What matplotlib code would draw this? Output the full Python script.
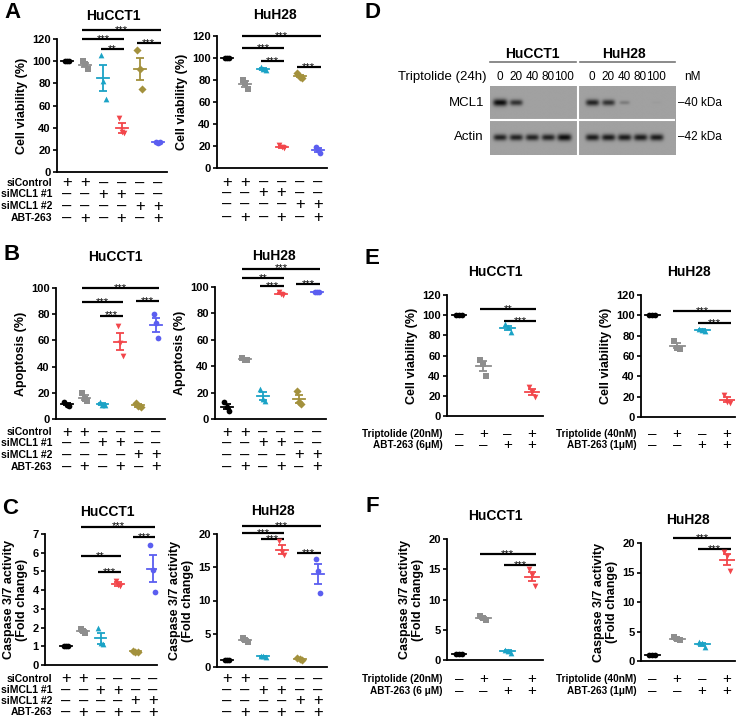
import numpy as np
import matplotlib
matplotlib.use('Agg')
import matplotlib.pyplot as plt
from matplotlib import transforms

plt.rcParams['font.family'] = ['Liberation Sans', 'DejaVu Sans']

# ---------------- data (3 replicates per group) ----------------
# A: cell viability (%)
via_hucct1 = [[100, 100, 100], [100, 97, 93], [106, 82, 66], [49, 36, 35], [110, 93, 75], [27, 26, 27]]
via_huh28 = [[100, 100, 100], [80, 77, 72], [92, 90, 89], [21, 19, 18], [86, 83, 82], [19, 16, 14]]
# B: apoptosis (%)
apo_hucct1 = [[13, 11, 10], [20, 15, 14], [13, 11, 11], [71, 58, 48], [12, 10, 9], [80, 73, 62]]
apo_huh28 = [[13, 9, 6], [46, 45, 45], [23, 15, 14], [96, 95, 94], [21, 13, 11], [96, 96, 96]]
# C: caspase 3/7 activity (fold change)
cas_hucct1 = [[1, 1, 1], [1.9, 1.8, 1.7], [2.0, 1.2, 1.1], [4.5, 4.25, 4.2], [0.75, 0.72, 0.7], [6.4, 5.1, 3.9]]
cas_huh28 = [[1, 1, 1], [4.4, 4.0, 3.8], [1.7, 1.6, 1.5], [18.9, 17.3, 16.8], [1.3, 1.2, 1.1], [16.3, 14.5, 11.2]]
# E: triptolide + ABT-263 viability (%)
tri_via_hucct1 = [[100, 100, 100], [56, 52, 40], [91, 88, 83], [29, 24, 19]]
tri_via_huh28 = [[100, 100, 100], [75, 68, 67], [87, 86, 85], [22, 15, 14]]
# F: triptolide + ABT-263 caspase activity
tri_cas_hucct1 = [[1, 1, 1], [7.3, 7.0, 6.6], [1.7, 1.5, 1.1], [15, 14, 12.3]]
tri_cas_huh28 = [[1, 1, 1], [4.0, 3.8, 3.5], [3.2, 3.0, 2.3], [18.5, 17.8, 15.3]]

# D: western blot band intensities (0 = none, 1 = strongest)
blot_doses = ['0', '20', '40', '80', '100', '0', '20', '40', '80', '100']
mcl1_band = [1.0, 0.75, 0.0, 0.0, 0.0, 0.85, 0.75, 0.25, 0.0, 0.03]
actin_band = [0.85, 0.85, 0.85, 0.85, 1.0, 0.9, 0.9, 0.9, 0.9, 0.9]

# treatment tables
rows_si = ['siControl', 'siMCL1 #1', 'siMCL1 #2', 'ABT-263']
signs_si = [['+', '+', '–', '–', '–', '–'],
            ['–', '–', '+', '+', '–', '–'],
            ['–', '–', '–', '–', '+', '+'],
            ['–', '+', '–', '+', '–', '+']]
signs_tri = [['–', '+', '–', '+'],
             ['–', '–', '+', '+']]

# significance: (group a, group b, level, label)
sig_A1 = [(1, 5, 128, '***'), (1, 3, 120, '***'), (2, 3, 111, '**'), (4, 5, 116, '***')]
sig_A2 = [(1, 5, 120, '***'), (1, 3, 109, '***'), (2, 3, 97, '***'), (4, 5, 92, '***')]
sig_B1 = [(1, 5, 100, '***'), (1, 3, 89, '***'), (2, 3, 79, '***'), (4, 5, 90, '***')]
sig_B2 = [(1, 5, 114, '***'), (1, 3, 107, '**'), (2, 3, 101, '***'), (4, 5, 102, '***')]
sig_C1 = [(1, 5, 7.4, '***'), (1, 3, 5.83, '**'), (2, 3, 4.97, '***'), (4, 5, 6.84, '***')]
sig_C2 = [(1, 5, 21.2, '***'), (1, 3, 20.15, '***'), (2, 3, 19.25, '***'), (4, 5, 17.1, '***')]
sig_E1 = [(1, 3, 106, '**'), (2, 3, 94, '***')]
sig_E2 = [(1, 3, 104, '***'), (2, 3, 92, '***')]
sig_F1 = [(1, 3, 17.5, '***'), (2, 3, 15.7, '***')]
sig_F2 = [(1, 3, 20.8, '***'), (2, 3, 19.0, '***')]

colors6 = ['black', '#8e8e8e', '#1ba3c6', '#f2464b', '#a3913d', '#5b5ef0']
markers6 = ['o', 's', '^', 'v', 'D', 'o']
colors4 = colors6[:4]
markers4 = markers6[:4]

W, H = 738, 719
fig = plt.figure(figsize=(W / 100, H / 100), dpi=100)


def add_ax(l, t, r, b):
    return fig.add_axes([l / W, 1 - b / H, (r - l) / W, (b - t) / H])


def fy(y):
    return 1 - y / H


def style(ax, ymax, step, ylabel, xlim):
    ax.set_ylim(0, ymax)
    ax.set_yticks(np.arange(0, ymax + step / 2, step))
    ax.set_xlim(*xlim)
    ax.set_xticks([])
    for s in ['top', 'right']:
        ax.spines[s].set_visible(False)
    for s in ['left', 'bottom']:
        ax.spines[s].set_linewidth(1.3)
    ax.tick_params(axis='y', length=3, width=1.2, labelsize=8, pad=1.5)
    for lab in ax.get_yticklabels():
        lab.set_fontweight('bold')
    ax.set_ylabel(ylabel, fontsize=9, fontweight='bold', labelpad=3, linespacing=1.1)
    ax.patch.set_alpha(0)


def dots(ax, groups, colors, markers, half=0.33):
    for i, vals in enumerate(groups):
        vals = np.asarray(vals, float)
        off = np.linspace(-0.13, 0.13, len(vals))
        ax.scatter(i + off, vals, s=17, marker=markers[i], color=colors[i],
                   zorder=3, linewidths=0, clip_on=False)
        m = vals.mean()
        se = vals.std(ddof=1) / np.sqrt(len(vals))
        ax.plot([i - half, i + half], [m, m], color=colors[i], lw=1.3, zorder=4)
        ax.errorbar(i, m, yerr=se, color=colors[i], lw=1.3, capsize=3,
                    capthick=1.3, zorder=4)


def sig(ax, items):
    for a, b, y, lab in items:
        ax.plot([a - 0.15, b + 0.15], [y, y], color='black', lw=1.6,
                clip_on=False, solid_capstyle='butt')
        ax.annotate(lab, ((a + b) / 2, y), xytext=(0, -2.2), textcoords='offset points',
                    ha='center', va='baseline', fontsize=8, annotation_clip=False)


def table(ax, signs, ys, labels=None, label_x=None, fs=12, lfs=7.5):
    tr = transforms.blended_transform_factory(ax.transData, fig.transFigure)
    for r, row in enumerate(signs):
        for i, s in enumerate(row):
            ax.text(i, fy(ys[r]), s, transform=tr, ha='center', va='center',
                    fontsize=fs)
        if labels:
            fig.text(label_x / W, fy(ys[r]), labels[r], ha='right', va='center',
                     fontsize=lfs, fontweight='bold')


def title(x, y, s):
    fig.text(x / W, fy(y), s, ha='center', va='center', fontsize=10,
             fontweight='bold')


def letter(x, y, s):
    fig.text(x / W, fy(y), s, ha='center', va='center', fontsize=16,
             fontweight='bold')


# ---------------- panel A ----------------
ax = add_ax(57, 39, 167, 172)
style(ax, 120, 20, 'Cell viability (%)', (-0.55, 5.5))
dots(ax, via_hucct1, colors6, markers6)
sig(ax, sig_A1)
table(ax, signs_si, [183, 194, 206, 218], rows_si, 52)
title(113, 16, 'HuCCT1')

ax = add_ax(217, 36, 327, 168)
style(ax, 120, 20, 'Cell viability (%)', (-0.55, 5.5))
dots(ax, via_huh28, colors6, markers6)
sig(ax, sig_A2)
table(ax, signs_si, [182, 193, 204, 217])
title(275, 15, 'HuH28')

# ---------------- panel B ----------------
ax = add_ax(56, 288, 165, 419)
style(ax, 100, 20, 'Apoptosis (%)', (-0.6, 5.5))
dots(ax, apo_hucct1, colors6, markers6)
sig(ax, sig_B1)
table(ax, signs_si, [432, 443, 455, 467], rows_si, 52)
title(115, 257, 'HuCCT1')

ax = add_ax(215, 287, 326, 419)
style(ax, 100, 20, 'Apoptosis (%)', (-0.65, 5.5))
dots(ax, apo_huh28, colors6, markers6)
sig(ax, sig_B2)
table(ax, signs_si, [432, 443, 455, 467])
title(274, 256, 'HuH28')

# ---------------- panel C ----------------
ax = add_ax(45, 534, 157, 665)
style(ax, 7, 1, 'Caspase 3/7 activity\n(Fold change)', (-1.2, 5.25))
dots(ax, cas_hucct1, colors6, markers6)
sig(ax, sig_C1)
table(ax, signs_si, [679, 690, 701, 712], rows_si, 52)
title(107, 512, 'HuCCT1')

ax = add_ax(217, 534, 327, 667)
style(ax, 20, 5, 'Caspase 3/7 activity\n(Fold change)', (-0.55, 5.5))
dots(ax, cas_huh28, colors6, markers6)
sig(ax, sig_C2)
table(ax, signs_si, [679, 690, 701, 712])
title(273, 511, 'HuH28')

# ---------------- panel D (western blot) ----------------
lane_x = np.r_[np.arange(5), np.arange(5) + 5.75]
bx0, bx1 = -0.625, 10.94
ax = add_ax(490, 86, 675, 155)
xs = np.linspace(bx0, bx1, 500)
ys = np.linspace(0, 2, 180)
X, Y = np.meshgrid(xs, ys)
dark = np.zeros_like(X)
for xc, a, b in zip(lane_x, mcl1_band, actin_band):
    for yc, inten in ((0.5, a), (1.5, b)):
        if inten <= 0:
            continue
        wx = 0.28 + 0.16 * inten
        wy = 0.04 + 0.06 * inten
        dark += inten * np.exp(-np.abs((X - xc) / wx) ** 4) * np.exp(-((Y - yc) / wy) ** 2)
img = 0.63 - 0.58 * np.clip(dark, 0, 1)
ax.imshow(img, cmap='gray', vmin=0, vmax=1, extent=[bx0, bx1, 2, 0],
          aspect='auto', interpolation='bilinear')
ax.set_xlim(bx0, bx1)
ax.set_ylim(2, 0)
ax.axvline((lane_x[4] + lane_x[5]) / 2, color='white', lw=1.5)
ax.axhline(1, color='white', lw=1.5)
ax.set_xticks([])
ax.set_yticks([])
for s in ax.spines.values():
    s.set_visible(False)
tr = transforms.blended_transform_factory(ax.transData, fig.transFigure)
for xc, d in zip(lane_x, blot_doses):
    ax.text(xc, fy(77), d, transform=tr, ha='center', va='center', fontsize=8.5)
mid = (lane_x[4] + lane_x[5]) / 2
ax.plot([bx0, mid - 0.12], [fy(62)] * 2, transform=tr, color='#777777', lw=1.2, clip_on=False)
ax.plot([mid + 0.12, bx1], [fy(62)] * 2, transform=tr, color='#777777', lw=1.2, clip_on=False)
ax.text(np.mean(lane_x[:5]), fy(54), 'HuCCT1', transform=tr, ha='center', va='center',
        fontsize=10, fontweight='bold')
ax.text(np.mean(lane_x[5:]), fy(54), 'HuH28', transform=tr, ha='center', va='center',
        fontsize=10, fontweight='bold')
fig.text(487 / W, fy(77), 'Triptolide (24h)', ha='right', va='center', fontsize=9.5)
fig.text(684 / W, fy(77), 'nM', ha='left', va='center', fontsize=8.5)
fig.text(484 / W, fy(103), 'MCL1', ha='right', va='center', fontsize=9.5)
fig.text(484 / W, fy(137), 'Actin', ha='right', va='center', fontsize=9.5)
fig.text(678 / W, fy(103), '–40 kDa', ha='left', va='center', fontsize=8.5)
fig.text(678 / W, fy(137), '–42 kDa', ha='left', va='center', fontsize=8.5)

# ---------------- panel E ----------------
ax = add_ax(447, 295, 543, 416)
style(ax, 120, 20, 'Cell viability (%)', (-0.49, 3.45))
dots(ax, tri_via_hucct1, colors4, markers4, half=0.3)
sig(ax, sig_E1)
table(ax, signs_tri, [434, 445], ['Triptolide (20nM)', 'ABT-263 (6μM)'], 443, fs=11, lfs=7.2)
title(495, 272, 'HuCCT1')

ax = add_ax(641, 295, 735, 417)
style(ax, 120, 20, 'Cell viability (%)', (-0.44, 3.32))
dots(ax, tri_via_huh28, colors4, markers4, half=0.3)
sig(ax, sig_E2)
table(ax, signs_tri, [434, 445], ['Triptolide (40nM)', 'ABT-263 (1μM)'], 637, fs=11, lfs=7.2)
title(689, 272, 'HuH28')

# ---------------- panel F ----------------
ax = add_ax(447, 539, 543, 660)
style(ax, 20, 5, 'Caspase 3/7 activity\n(Fold change)', (-0.49, 3.45))
dots(ax, tri_cas_hucct1, colors4, markers4, half=0.3)
sig(ax, sig_F1)
table(ax, signs_tri, [679, 691], ['Triptolide (20nM)', 'ABT-263 (6 μM)'], 443, fs=11, lfs=7.2)
title(495, 516, 'HuCCT1')

ax = add_ax(641, 543, 735, 661)
style(ax, 20, 5, 'Caspase 3/7 activity\n(Fold change)', (-0.44, 3.32))
dots(ax, tri_cas_huh28, colors4, markers4, half=0.3)
sig(ax, sig_F2)
table(ax, signs_tri, [679, 691], ['Triptolide (40nM)', 'ABT-263 (1μM)'], 637, fs=11, lfs=7.2)
title(688, 520, 'HuH28')

# panel letters
letter(12, 12, 'A')
letter(12, 255, 'B')
letter(10, 508, 'C')
letter(372, 13, 'D')
letter(372, 258, 'E')
letter(372, 507, 'F')

fig.savefig('out.png', dpi=100)
